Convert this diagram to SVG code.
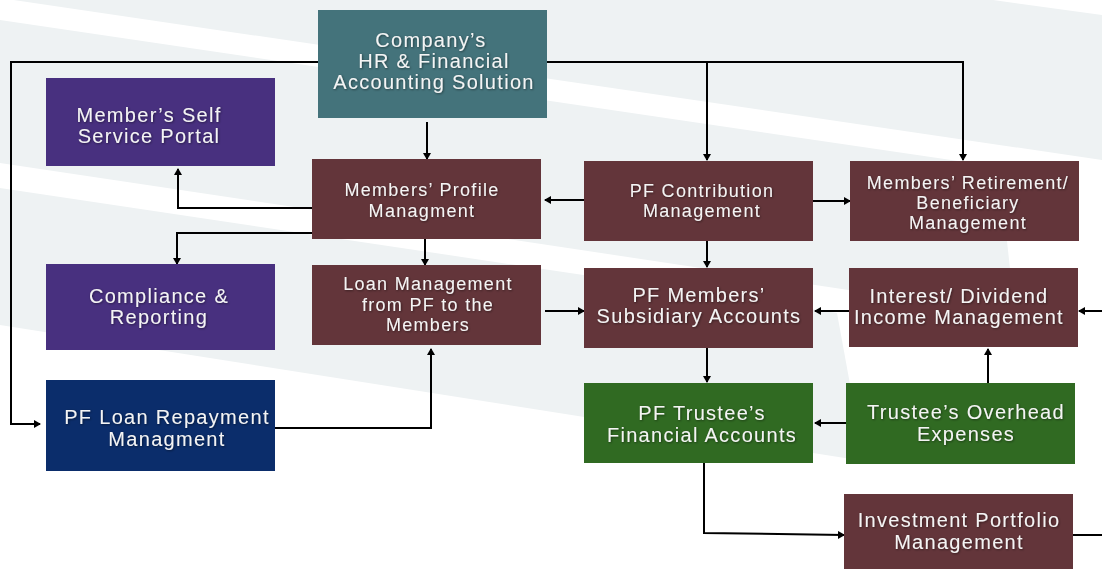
<svg xmlns="http://www.w3.org/2000/svg" width="1102" height="569" viewBox="0 0 1102 569">
<style>
.bgp{fill:#eef2f3}
.teal{fill:#44737b}
.purple{fill:#48307f}
.maroon{fill:#63353a}
.navy{fill:#0b2d6b}
.green{fill:#306a22}
.t20{font-family:"Liberation Sans",Arial,sans-serif;font-size:20px;letter-spacing:1.3px;fill:#f4f4f4;text-anchor:middle;filter:url(#sh)}
.t18{font-family:"Liberation Sans",Arial,sans-serif;font-size:18px;letter-spacing:1.3px;fill:#f4f4f4;text-anchor:middle;filter:url(#sh)}
.c{fill:none;stroke:#000;stroke-width:2}
.a{marker-end:url(#ah)}
</style>
<defs>
<marker id="ah" markerUnits="userSpaceOnUse" markerWidth="7" markerHeight="8" refX="6" refY="4" orient="auto">
<path d="M0,0 L7,4 L0,8 z" fill="#000"/>
</marker>
<filter id="sh" x="-10%" y="-30%" width="120%" height="160%">
<feDropShadow dx="0.8" dy="0.8" stdDeviation="0.8" flood-color="#000" flood-opacity="0.5"/>
</filter>
</defs>
<rect width="1102" height="569" fill="#ffffff"/>
<g id="background">
<polygon class="bgp" points="0,-2 993,0 1102,15 1102,160"/>
<polygon class="bgp" points="0,20 999,167 1015,315 0,163"/>
<polygon class="bgp" points="0,188 837,313 864,461 0,325"/>
</g>
<g id="connectors">
<path class="c a" d="M318,62 H11 V424 H40"/>
<path class="c a" d="M547,62 H963 V160"/>
<path class="c a" d="M707,62 V160"/>
<path class="c a" d="M427,122 V159"/>
<path class="c a" d="M312,208 H178 V169"/>
<path class="c a" d="M312,233 H177 V264"/>
<path class="c a" d="M425,239 V265"/>
<path class="c a" d="M584,200 H545"/>
<path class="c a" d="M813,201 H850"/>
<path class="c a" d="M707,241 V267"/>
<path class="c a" d="M545,311 H584"/>
<path class="c a" d="M849,311 H815"/>
<path class="c a" d="M1102,311 H1079"/>
<path class="c a" d="M707,348 V382"/>
<path class="c a" d="M988,383 V349"/>
<path class="c a" d="M846,423 H815"/>
<path class="c a" d="M704,463 V533 L844,535"/>
<path class="c" d="M1073,535 H1102"/>
<path class="c a" d="M275,428 H431 V349"/>
</g>
<g id="node-hr">
<rect class="teal" x="318" y="10" width="229" height="108"/>
<text class="t20" x="431" y="47">Company’s</text>
<text class="t20" x="434" y="68">HR &amp; Financial</text>
<text class="t20" x="434" y="89">Accounting Solution</text>
</g>
<g id="node-self-service">
<rect class="purple" x="46" y="78" width="229" height="88"/>
<text class="t20" x="149" y="122">Member’s Self</text>
<text class="t20" x="149" y="143">Service Portal</text>
</g>
<g id="node-profile">
<rect class="maroon" x="312" y="159" width="229" height="80"/>
<text class="t18" x="422" y="196">Members’ Profile</text>
<text class="t18" x="422" y="217">Managment</text>
</g>
<g id="node-compliance">
<rect class="purple" x="46" y="264" width="229" height="86"/>
<text class="t20" x="159" y="303">Compliance &amp;</text>
<text class="t20" x="159" y="324">Reporting</text>
</g>
<g id="node-loan">
<rect class="maroon" x="312" y="265" width="229" height="80"/>
<text class="t18" x="428" y="290">Loan Management</text>
<text class="t18" x="428" y="311">from PF to the</text>
<text class="t18" x="428" y="331">Members</text>
</g>
<g id="node-loan-repayment">
<rect class="navy" x="46" y="380" width="229" height="91"/>
<text class="t20" x="167" y="424">PF Loan Repayment</text>
<text class="t20" x="167" y="446">Managment</text>
</g>
<g id="node-contribution">
<rect class="maroon" x="584" y="161" width="229" height="80"/>
<text class="t18" x="702" y="197">PF Contribution</text>
<text class="t18" x="702" y="217">Management</text>
</g>
<g id="node-retirement">
<rect class="maroon" x="850" y="161" width="229" height="80"/>
<text class="t18" x="968" y="189">Members’ Retirement/</text>
<text class="t18" x="968" y="209">Beneficiary</text>
<text class="t18" x="968" y="229">Management</text>
</g>
<g id="node-subsidiary">
<rect class="maroon" x="584" y="268" width="229" height="80"/>
<text class="t20" x="699" y="302">PF Members’</text>
<text class="t20" x="699" y="323">Subsidiary Accounts</text>
</g>
<g id="node-interest">
<rect class="maroon" x="849" y="268" width="229" height="79"/>
<text class="t20" x="959" y="303">Interest/ Dividend</text>
<text class="t20" x="959" y="324">Income Management</text>
</g>
<g id="node-trustee-accounts">
<rect class="green" x="584" y="383" width="229" height="80"/>
<text class="t20" x="702" y="420">PF Trustee’s</text>
<text class="t20" x="702" y="442">Financial Accounts</text>
</g>
<g id="node-overhead">
<rect class="green" x="846" y="383" width="229" height="81"/>
<text class="t20" x="966" y="419">Trustee’s Overhead</text>
<text class="t20" x="966" y="441">Expenses</text>
</g>
<g id="node-investment">
<rect class="maroon" x="844" y="494" width="229" height="75"/>
<text class="t20" x="959" y="527">Investment Portfolio</text>
<text class="t20" x="959" y="549">Management</text>
</g>
</svg>
